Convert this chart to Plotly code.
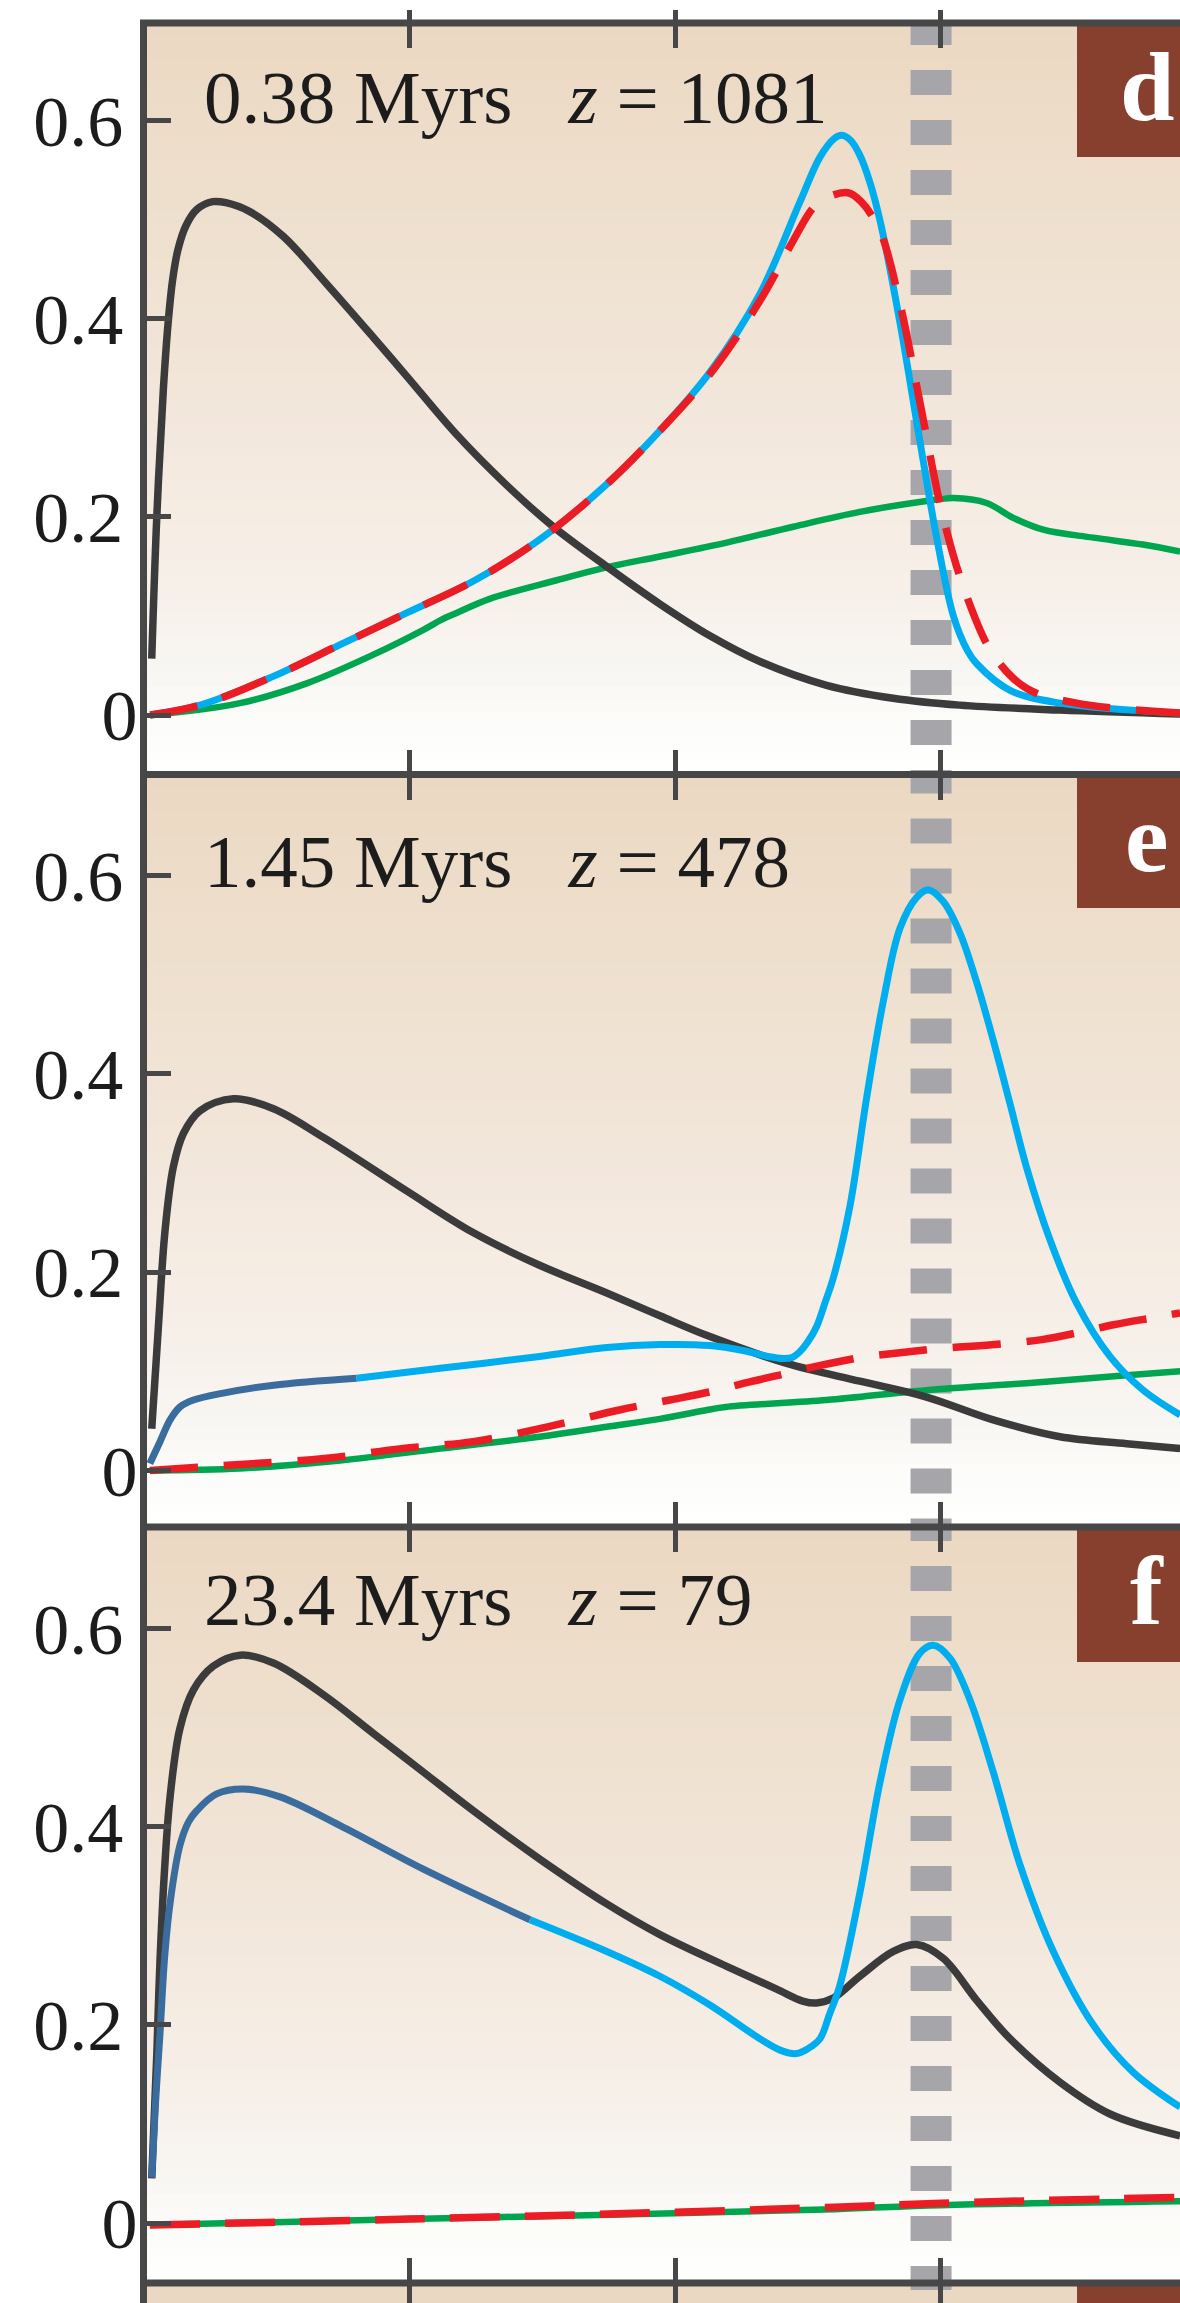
import plotly.graph_objects as go

# ---------------- data (x in units of the top tick marks, left axis = 0) ----------------
# Panel d : 0.38 Myrs, z = 1081
d_black_x = [0.031, 0.05, 0.075, 0.094, 0.11, 0.13, 0.16, 0.20, 0.26, 0.31, 0.40, 0.526, 0.689, 0.865, 0.99,
             1.178, 1.366, 1.542, 1.742, 1.943, 2.131, 2.319, 2.57, 2.82, 3.07, 3.448, 3.9]
d_black_y = [0.057, 0.20, 0.33, 0.40, 0.44, 0.47, 0.494, 0.510, 0.518, 0.517, 0.508, 0.483, 0.435, 0.381, 0.342,
             0.283, 0.232, 0.190, 0.150, 0.112, 0.080, 0.054, 0.030, 0.017, 0.010, 0.005, 0.001]
d_blue_x = [0.025, 0.213, 0.488, 0.74, 0.99, 1.24, 1.49, 1.743, 1.943, 2.131, 2.319, 2.47, 2.545, 2.60, 2.627,
            2.66, 2.695, 2.73, 2.77, 2.846, 2.92, 2.984, 3.047, 3.10, 3.134, 3.26, 3.448, 3.9]
d_blue_y = [0.0, 0.010, 0.039, 0.071, 0.103, 0.135, 0.177, 0.233, 0.287, 0.346, 0.425, 0.518, 0.563, 0.582, 0.585,
            0.580, 0.565, 0.540, 0.500, 0.396, 0.278, 0.179, 0.100, 0.065, 0.052, 0.025, 0.012, 0.002]
d_red_x = [0.025, 0.213, 0.488, 0.74, 0.99, 1.24, 1.49, 1.743, 1.943, 2.131, 2.319, 2.445, 2.52, 2.57, 2.65,
           2.70, 2.77, 2.846, 2.92, 3.009, 3.097, 3.197, 3.322, 3.51, 3.9]
d_red_y = [0.0, 0.010, 0.039, 0.071, 0.103, 0.135, 0.177, 0.233, 0.287, 0.344, 0.418, 0.479, 0.512, 0.522, 0.527,
           0.518, 0.489, 0.415, 0.317, 0.199, 0.120, 0.061, 0.027, 0.012, 0.002]
d_green_x = [0.025, 0.363, 0.614, 0.865, 1.053, 1.12, 1.178, 1.30, 1.554, 1.742, 1.943, 2.194, 2.445, 2.695,
             2.946, 3.047, 3.172, 3.272, 3.385, 3.573, 3.76, 3.9]
d_green_y = [0.0, 0.012, 0.032, 0.061, 0.086, 0.096, 0.103, 0.117, 0.136, 0.149, 0.160, 0.174, 0.190, 0.205,
             0.216, 0.219, 0.214, 0.199, 0.187, 0.179, 0.172, 0.165]

# Panel e : 1.45 Myrs, z = 478
e_black_x = [0.031, 0.056, 0.081, 0.112, 0.15, 0.213, 0.338, 0.489, 0.677, 0.99, 1.24, 1.49, 1.743, 1.943,
             2.131, 2.42, 2.695, 2.946, 3.197, 3.448, 3.699, 3.9]
e_black_y = [0.042, 0.145, 0.242, 0.306, 0.340, 0.363, 0.375, 0.365, 0.336, 0.282, 0.240, 0.207, 0.179, 0.156,
             0.135, 0.108, 0.090, 0.074, 0.051, 0.034, 0.027, 0.022]
e_blue_dark_x = [0.024, 0.062, 0.10, 0.137, 0.188, 0.30, 0.489, 0.802]
e_blue_dark_y = [0.007, 0.029, 0.051, 0.064, 0.071, 0.078, 0.086, 0.093]
e_blue_x = [0.802, 1.116, 1.49, 1.743, 1.943, 2.131, 2.256, 2.35, 2.407, 2.44, 2.47, 2.50, 2.532, 2.565, 2.595,
            2.658, 2.72, 2.783, 2.846, 2.908, 2.952, 3.009, 3.072, 3.134, 3.197, 3.26, 3.322, 3.41, 3.51, 3.636,
            3.761, 3.9]
e_blue_y = [0.093, 0.103, 0.115, 0.124, 0.127, 0.126, 0.121, 0.115, 0.113, 0.114, 0.120, 0.130, 0.145, 0.170,
            0.194, 0.267, 0.375, 0.473, 0.547, 0.578, 0.586, 0.574, 0.542, 0.493, 0.434, 0.370, 0.306, 0.233,
            0.169, 0.115, 0.081, 0.056]
e_red_x = [0.024, 0.30, 0.68, 0.97, 1.24, 1.52, 1.79, 1.98, 2.16, 2.26, 2.42, 2.53, 2.70, 2.82, 3.0, 3.2, 3.38,
           3.55, 3.65, 3.82, 3.9]
e_red_y = [0.0, 0.005, 0.012, 0.022, 0.029, 0.044, 0.061, 0.071, 0.081, 0.088, 0.098, 0.105, 0.114, 0.118, 0.123,
           0.127, 0.132, 0.141, 0.147, 0.155, 0.159]
e_green_x = [0.024, 0.363, 0.74, 1.116, 1.49, 1.743, 1.943, 2.10, 2.19, 2.57, 2.946, 3.322, 3.699, 3.9]
e_green_y = [0.0, 0.002, 0.010, 0.022, 0.034, 0.044, 0.052, 0.060, 0.064, 0.071, 0.081, 0.088, 0.096, 0.100]

# Panel f : 23.4 Myrs, z = 79
f_black_x = [0.031, 0.05, 0.062, 0.08, 0.10, 0.137, 0.188, 0.263, 0.363, 0.489, 0.677, 0.865, 1.053, 1.241,
             1.492, 1.743, 1.943, 2.194, 2.382, 2.48, 2.532, 2.595, 2.695, 2.821, 2.909, 3.009, 3.134, 3.26,
             3.448, 3.636, 3.9]
f_black_y = [0.045, 0.17, 0.264, 0.36, 0.43, 0.499, 0.538, 0.562, 0.573, 0.565, 0.533, 0.494, 0.455, 0.416,
             0.367, 0.322, 0.291, 0.259, 0.236, 0.224, 0.222, 0.227, 0.249, 0.274, 0.281, 0.267, 0.225, 0.186,
             0.142, 0.110, 0.088]
f_blue_dark_x = [0.031, 0.045, 0.062, 0.08, 0.10, 0.137, 0.17, 0.20, 0.275, 0.376, 0.514, 0.74, 1.053, 1.454]
f_blue_dark_y = [0.046, 0.12, 0.191, 0.27, 0.323, 0.381, 0.405, 0.416, 0.433, 0.438, 0.430, 0.401, 0.357, 0.306]
f_blue_x = [1.454, 1.743, 1.943, 2.131, 2.319, 2.40, 2.457, 2.50, 2.545, 2.58, 2.62, 2.695, 2.771, 2.846, 2.921,
            2.971, 3.034, 3.109, 3.197, 3.297, 3.423, 3.573, 3.724, 3.9]
f_blue_y = [0.306, 0.274, 0.249, 0.220, 0.186, 0.174, 0.171, 0.176, 0.186, 0.210, 0.240, 0.333, 0.445, 0.528,
            0.575, 0.583, 0.570, 0.528, 0.455, 0.362, 0.274, 0.200, 0.152, 0.117]
f_red_x = [0.024, 1.0, 2.0, 2.6, 3.0, 3.9]
f_red_y = [-0.002, 0.004, 0.011, 0.016, 0.020, 0.026]
f_green_x = [0.024, 1.0, 2.0, 2.6, 3.0, 3.9]
f_green_y = [-0.002, 0.004, 0.010, 0.014, 0.018, 0.022]

# reference frequency marker (grey dashed vertical line)
marker_x = 2.963

y_tickvals = [0, 0.2, 0.4, 0.6]
y_ticktext = ["0", "0.2\u2009", "0.4\u2009", "0.6\u2009"]
x_tickvals = [1, 2, 3]

panel_labels = ["d", "e", "f"]
panel_texts = ["0.38 Myrs&nbsp;&nbsp;&nbsp;<i>z</i> = 1081",
               "1.45 Myrs&nbsp;&nbsp;&nbsp;<i>z</i> = 478",
               "23.4 Myrs&nbsp;&nbsp;&nbsp;<i>z</i> = 79"]

# ---------------- styling ----------------
W, H = 1180, 2303
TOP, LEFT = 23, 147
PH = H - TOP
AX = "#474747"
C_BLACK = "#3b3b3b"
C_CYAN = "#00aeef"
C_DBLUE = "#3a6c9e"
C_GREEN = "#00a54f"
C_RED = "#ec1c24"
C_GREY = "#a6a6aa"
C_BROWN = "#86402d"
SERIF = "Liberation Serif, Times New Roman, serif"


def py(Y):
    return (H - Y) / PH


def px_(X):
    return (X - LEFT) / (W - LEFT)


x_range = [(LEFT - 143.5) / 265.8, (W - 143.5) / 265.8]
bounds = [23, 774.5, 1527, 2283, 2303]
y_ranges = [[-0.0600, 0.6983], [-0.0571, 0.7022], [-0.0605, 0.7023], [0.6798, 0.70]]
grey_off = [3, 6, 11, 18]  # dash phase offsets (px)

fig = go.Figure()


def axn(i):
    return "" if i == 0 else str(i + 1)


def add_line(i, x, y, color, width, dash="solid", shape="spline"):
    fig.add_trace(go.Scatter(x=x, y=y, mode="lines", xaxis="x" + axn(i), yaxis="y" + axn(i),
                             line=dict(color=color, width=width, dash=dash, shape=shape, smoothing=1.0),
                             showlegend=False, hoverinfo="skip"))


for i in range(4):
    lo, hi = y_ranges[i]
    add_line(i, [marker_x, marker_x], [hi + grey_off[i] / 991, lo - 0.05], C_GREY, 41, "25px,25px", "linear")

series = [
    [(d_green_x, d_green_y, C_GREEN, 6.5, "solid"), (d_black_x, d_black_y, C_BLACK, 7.5, "solid"),
     (d_blue_x, d_blue_y, C_CYAN, 7, "solid"), (d_red_x, d_red_y, C_RED, 7.5, "48px,26px")],
    [(e_green_x, e_green_y, C_GREEN, 6.5, "solid"), (e_black_x, e_black_y, C_BLACK, 7.5, "solid"),
     (e_blue_dark_x, e_blue_dark_y, C_DBLUE, 7, "solid"), (e_blue_x, e_blue_y, C_CYAN, 7, "solid"),
     (e_red_x, e_red_y, C_RED, 7.5, "48px,26px")],
    [(f_green_x, f_green_y, C_GREEN, 6.5, "solid"), (f_black_x, f_black_y, C_BLACK, 7.5, "solid"),
     (f_blue_dark_x, f_blue_dark_y, C_DBLUE, 7, "solid"), (f_blue_x, f_blue_y, C_CYAN, 7, "solid"),
     (f_red_x, f_red_y, C_RED, 7.5, "50px,25px")],
]
for i, group in enumerate(series):
    for x, y, c, w, dsh in group:
        add_line(i, x, y, c, w, dsh)

# ---------------- background gradient ----------------
bg_stops = [(0.0, (235, 216, 194)), (0.3, (239, 225, 208)), (0.55, (243, 232, 221)),
            (0.75, (247, 240, 233)), (0.86, (248, 246, 242)), (0.93, (252, 252, 250)), (1.0, (255, 255, 255))]


def bg(f):
    for (f0, c0), (f1, c1) in zip(bg_stops[:-1], bg_stops[1:]):
        if f0 <= f <= f1:
            t = (f - f0) / (f1 - f0)
            return "rgb(%d,%d,%d)" % tuple(round(a + (b - a) * t) for a, b in zip(c0, c1))
    return "rgb(255,255,255)"


shapes = []
N = 60
for i in range(3):
    for k in range(N):
        shapes.append(dict(type="rect", xref="x%s domain" % axn(i), yref="y%s domain" % axn(i),
                           x0=0, x1=1, y0=0, y1=1 - k / N,
                           fillcolor=bg((k + 0.5) / N), line=dict(width=0), layer="below"))
shapes.append(dict(type="rect", xref="x4 domain", yref="y4 domain", x0=0, x1=1, y0=0, y1=1,
                   fillcolor=bg(0.01), line=dict(width=0), layer="below"))

box_bottoms = [157, 908, 1662, 2303]
for i in range(4):
    shapes.append(dict(type="rect", xref="paper", yref="paper", x0=px_(1077), x1=1.05,
                       y0=py(box_bottoms[i]), y1=py(bounds[i]), fillcolor=C_BROWN, line=dict(width=0),
                       layer="above"))
for Y in bounds[:4]:
    shapes.append(dict(type="line", xref="paper", yref="paper", x0=px_(140), x1=1.05, y0=py(Y), y1=py(Y),
                       line=dict(color=AX, width=7), layer="above"))

annotations = []
text_base = [122.6, 886.3, 1624.4]
for i in range(3):
    annotations.append(dict(xref="paper", yref="paper", x=px_(202), y=py(text_base[i] - 25.3),
                            xanchor="left", yanchor="middle", text=panel_texts[i], showarrow=False,
                            font=dict(family=SERIF, size=75, color="#1c1c1c")))
    annotations.append(dict(xref="paper", yref="paper", x=px_(1147), y=py(bounds[i] + 64),
                            xanchor="center", yanchor="middle", text="<b>%s</b>" % panel_labels[i],
                            showarrow=False, font=dict(family=SERIF, size=98, color="white")))

layout = dict(width=W, height=H, margin=dict(l=LEFT, r=0, t=TOP, b=0, pad=0),
              paper_bgcolor="white", plot_bgcolor="rgba(0,0,0,0)", showlegend=False,
              shapes=shapes, annotations=annotations)

for i in range(4):
    dom = [py(bounds[i + 1]), py(bounds[i])]
    layout["xaxis" + axn(i)] = dict(range=x_range, domain=[0, 1], anchor="y" + axn(i), showgrid=False,
                                    zeroline=False, showline=False, ticks="inside", ticklen=25, tickwidth=5,
                                    tickcolor=AX, tickvals=x_tickvals, showticklabels=False, mirror="ticks",
                                    fixedrange=True)
    layout["yaxis" + axn(i)] = dict(range=y_ranges[i], domain=dom, anchor="x" + axn(i), showgrid=False,
                                    zeroline=False, showline=True, linewidth=7, linecolor=AX,
                                    ticks="inside" if i < 3 else "", ticklen=24, tickwidth=5, tickcolor=AX,
                                    tickvals=y_tickvals if i < 3 else [], ticktext=y_ticktext if i < 3 else [],
                                    showticklabels=(i < 3), ticklabelstandoff=-12,
                                    tickfont=dict(family=SERIF, size=72, color="#1c1c1c"), fixedrange=True)
layout["xaxis5"] = dict(range=x_range, overlaying="x", anchor="y", side="top", showgrid=False, zeroline=False,
                        showline=False, ticks="outside", ticklen=12, tickwidth=5, tickcolor=AX,
                        tickvals=x_tickvals, showticklabels=False, fixedrange=True)
fig.add_trace(go.Scatter(x=[None], y=[None], xaxis="x5", yaxis="y", showlegend=False))

fig.update_layout(**layout)
fig.write_html("out.html")
